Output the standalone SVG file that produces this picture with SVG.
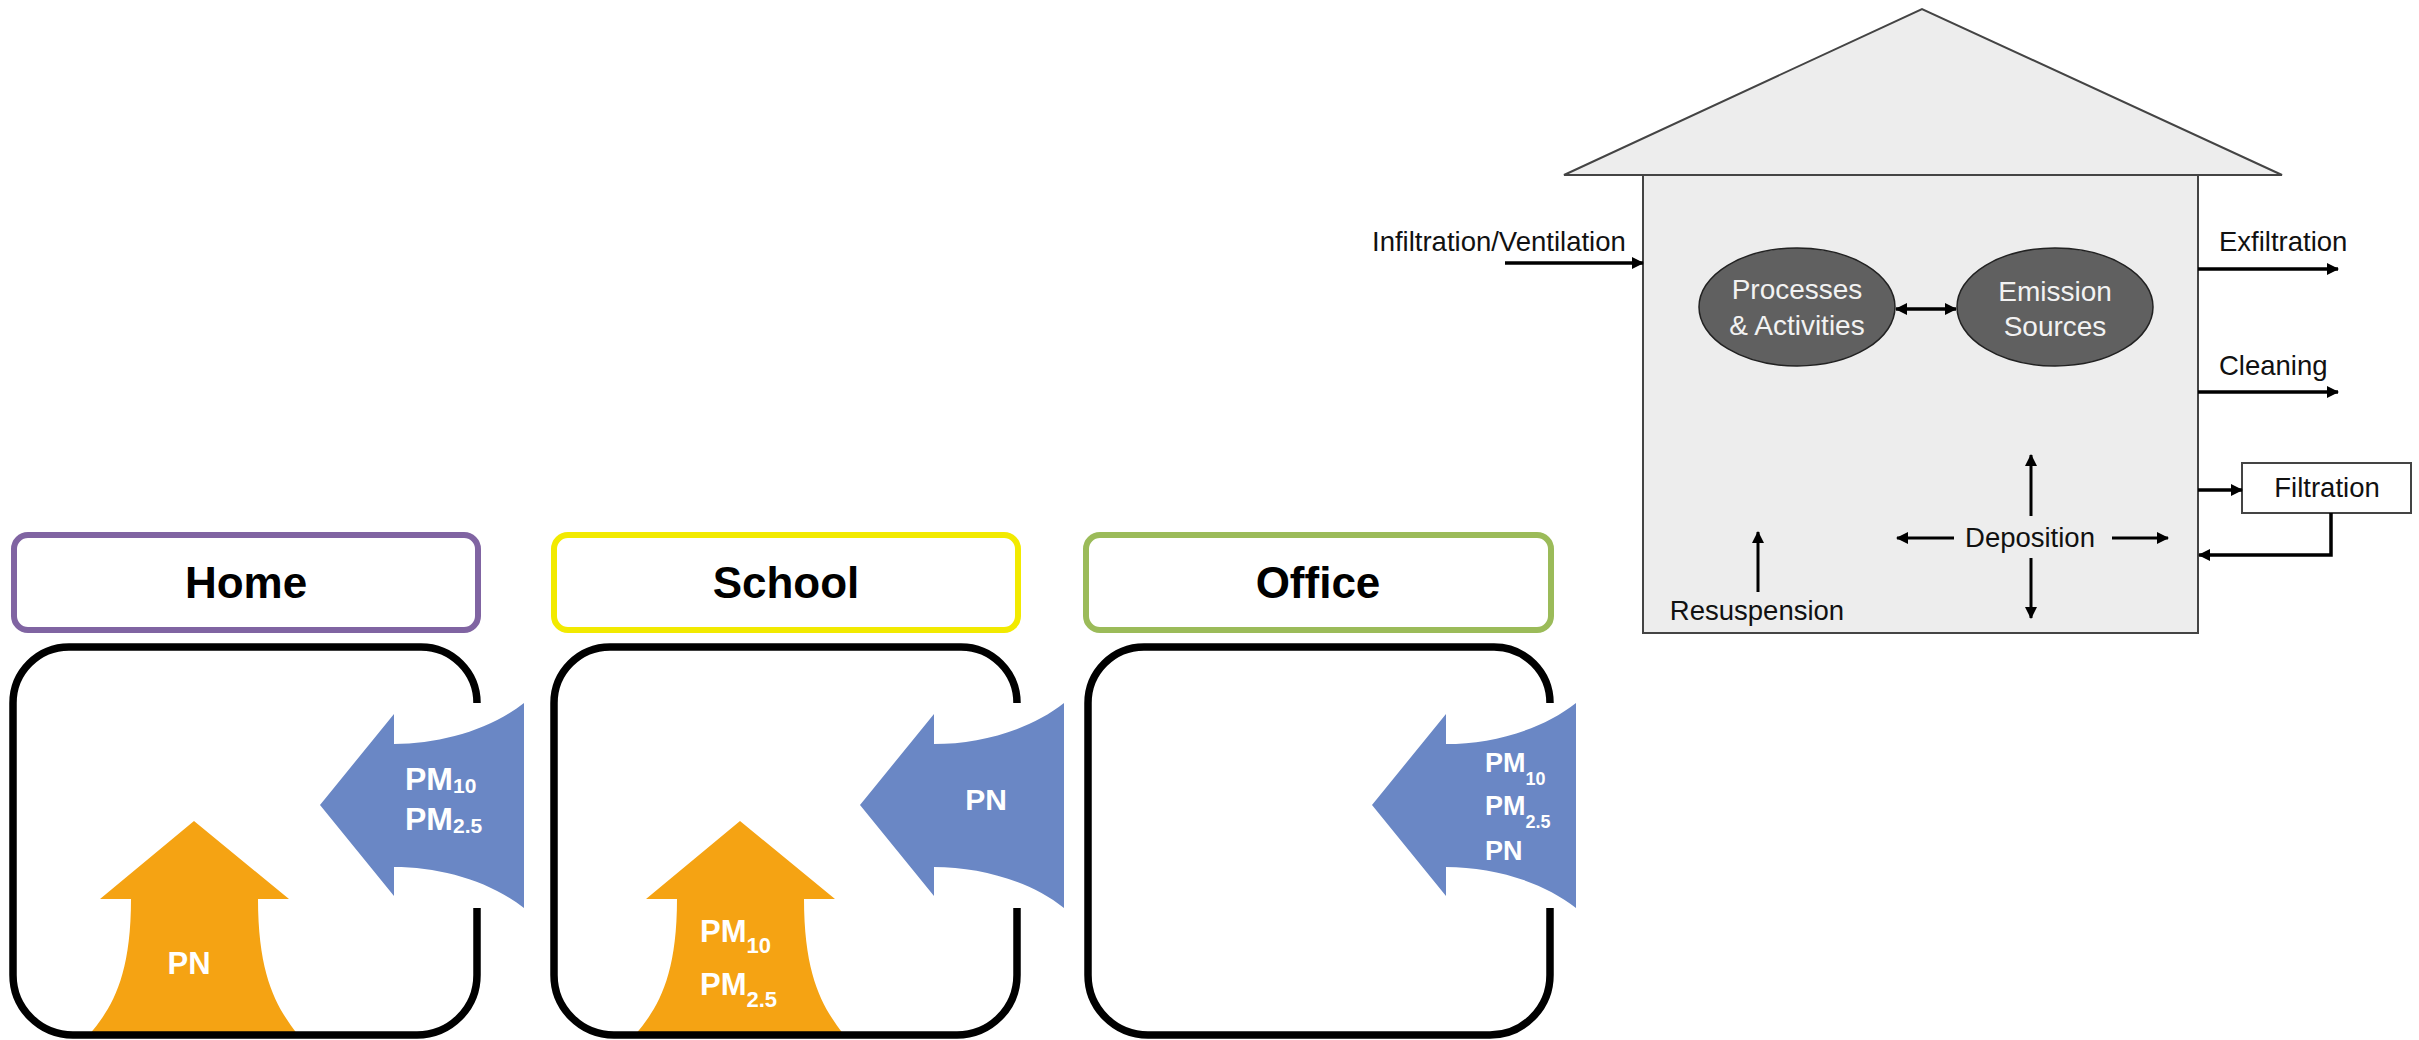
<svg xmlns="http://www.w3.org/2000/svg" width="2419" height="1040" viewBox="0 0 2419 1040">
<defs>
<style>
.label{fill:#fff;stroke-width:6}
.labtxt{font-family:"Liberation Sans",Arial,sans-serif;font-weight:bold;font-size:44px;fill:#000;text-anchor:middle}
.room{fill:none;stroke:#000;stroke-width:7.5;stroke-linecap:butt}
.blue{fill:#6A87C5}
.orange{fill:#F5A313}
.atxt{font-family:"Liberation Sans",Arial,sans-serif;font-weight:bold;fill:#fff}
.wall{fill:#EDEDED;stroke:#444;stroke-width:2}
.ell{fill:#606060;stroke:#222;stroke-width:1.5}
.htxt{font-family:"Liberation Sans",Arial,sans-serif;font-size:27.5px;fill:#111}
.etxt{font-family:"Liberation Sans",Arial,sans-serif;font-size:28px;fill:#F2F2F2;text-anchor:middle}
.conn{fill:none;stroke:#000;stroke-width:3.5}
.thin{fill:none;stroke:#000;stroke-width:3}
</style>
<marker id="ah" viewBox="0 0 12 12" refX="11" refY="6" markerWidth="12" markerHeight="12" markerUnits="userSpaceOnUse" orient="auto-start-reverse">
<path d="M0,0 L12,6 L0,12 Z" fill="#000"/>
</marker>
<path id="blueArrow" d="M320,805 L394,714 L394,744 C440,744 490,730 524,703 L524,908 C490,881 440,867 394,867 L394,896 Z"/>
<path id="orangeArrow" d="M194,821 L289,899 L258,899 C258,980 279,1010 298,1035 L89,1035 C110,1010 131,980 131,899 L100,899 Z"/>
</defs>

<!-- Home -->
<g id="home">
<rect class="label" x="14" y="535" width="464" height="95" rx="14" stroke="#8064A2"/>
<text class="labtxt" x="246" y="598">Home</text>
<use href="#orangeArrow" class="orange"/>
<use href="#blueArrow" class="blue"/>
<path class="room" d="M477,703 A56,56 0 0 0 421,647 L69,647 A56,56 0 0 0 13,703 L13,975 A60,60 0 0 0 73,1035 L417,1035 A60,60 0 0 0 477,975 L477,908"/>
<text class="atxt" x="405" y="790" font-size="32">PM<tspan font-size="21" dy="3">10</tspan></text>
<text class="atxt" x="405" y="830" font-size="32">PM<tspan font-size="21" dy="3">2.5</tspan></text>
<text class="atxt" x="189" y="974" font-size="31" text-anchor="middle">PN</text>
</g>

<!-- School -->
<g id="school">
<rect class="label" x="554" y="535" width="464" height="95" rx="14" stroke="#F2EA00"/>
<text class="labtxt" x="786" y="598">School</text>
<use href="#orangeArrow" class="orange" transform="translate(546,0)"/>
<use href="#blueArrow" class="blue" transform="translate(540,0)"/>
<path class="room" d="M1017,703 A56,56 0 0 0 961,647 L610,647 A56,56 0 0 0 554,703 L554,975 A60,60 0 0 0 614,1035 L957,1035 A60,60 0 0 0 1017,975 L1017,908"/>
<text class="atxt" x="986" y="810" font-size="30" text-anchor="middle">PN</text>
<text class="atxt" x="700" y="942" font-size="31">PM<tspan font-size="22" dy="11">10</tspan></text>
<text class="atxt" x="700" y="995" font-size="31">PM<tspan font-size="22" dy="12">2.5</tspan></text>
</g>

<!-- Office -->
<g id="office">
<rect class="label" x="1086" y="535" width="465" height="95" rx="14" stroke="#9BBB59"/>
<text class="labtxt" x="1318" y="598">Office</text>
<use href="#blueArrow" class="blue" transform="translate(1052,0)"/>
<path class="room" d="M1550,703 A56,56 0 0 0 1494,647 L1144,647 A56,56 0 0 0 1088,703 L1088,975 A60,60 0 0 0 1148,1035 L1490,1035 A60,60 0 0 0 1550,975 L1550,908"/>
<text class="atxt" x="1485" y="772" font-size="27">PM<tspan font-size="18" dy="13">10</tspan></text>
<text class="atxt" x="1485" y="815" font-size="27">PM<tspan font-size="18" dy="13">2.5</tspan></text>
<text class="atxt" x="1485" y="860" font-size="27">PN</text>
</g>

<!-- House -->
<g id="house">
<polygon class="wall" points="1564,175 1922,9 2282,175"/>
<rect class="wall" x="1643" y="175" width="555" height="458"/>
</g>
<g id="processes">
<ellipse class="ell" cx="1797" cy="307" rx="98" ry="59"/>
<text class="etxt" x="1797" y="299">Processes</text>
<text class="etxt" x="1797" y="335">&amp; Activities</text>
</g>
<g id="emission">
<ellipse class="ell" cx="2055" cy="307" rx="98" ry="59"/>
<text class="etxt" x="2055" y="301">Emission</text>
<text class="etxt" x="2055" y="336">Sources</text>
</g>
<g id="filtration">
<rect x="2242" y="463" width="169" height="50" fill="#fff" stroke="#444" stroke-width="2"/>
<text class="htxt" x="2327" y="497" text-anchor="middle">Filtration</text>
</g>
<g id="labels">
<text class="htxt" x="1372" y="251">Infiltration/Ventilation</text>
<text class="htxt" x="2219" y="251">Exfiltration</text>
<text class="htxt" x="2219" y="375">Cleaning</text>
<text class="htxt" x="2030" y="547" text-anchor="middle">Deposition</text>
<text class="htxt" x="1757" y="620" text-anchor="middle">Resuspension</text>
</g>

<!-- Connectors -->
<g id="connectors">
<line class="conn" x1="1505" y1="263" x2="1643" y2="263" marker-end="url(#ah)"/>
<line class="conn" x1="2198" y1="269" x2="2338" y2="269" marker-end="url(#ah)"/>
<line class="conn" x1="2198" y1="392" x2="2338" y2="392" marker-end="url(#ah)"/>
<line class="conn" x1="2198" y1="490" x2="2242" y2="490" marker-end="url(#ah)"/>
<polyline class="conn" points="2331,513 2331,555 2199,555" marker-end="url(#ah)"/>
<line class="conn" x1="1896" y1="309" x2="1956" y2="309" marker-start="url(#ah)" marker-end="url(#ah)"/>
<line class="thin" x1="2031" y1="516" x2="2031" y2="455" marker-end="url(#ah)"/>
<line class="thin" x1="2031" y1="558" x2="2031" y2="618" marker-end="url(#ah)"/>
<line class="thin" x1="1954" y1="538" x2="1897" y2="538" marker-end="url(#ah)"/>
<line class="thin" x1="2112" y1="538" x2="2168" y2="538" marker-end="url(#ah)"/>
<line class="thin" x1="1758" y1="592" x2="1758" y2="532" marker-end="url(#ah)"/>
</g>
</svg>
